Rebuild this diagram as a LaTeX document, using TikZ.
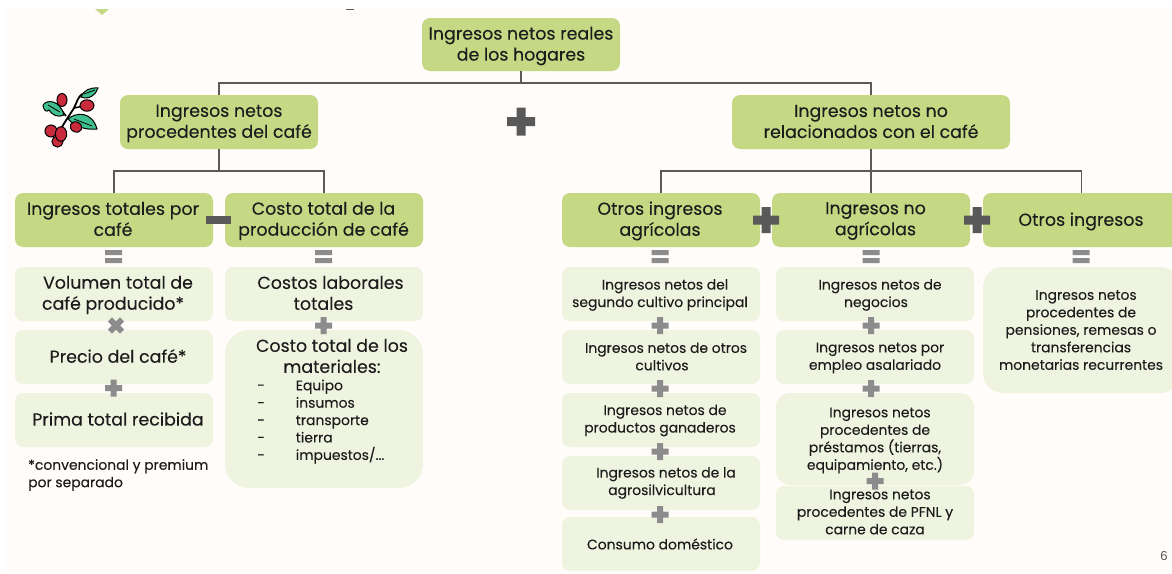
\documentclass[tikz,border=0pt]{standalone}
\usepackage{fontspec}
\setmainfont{Poppins}[UprightFeatures={FakeBold=0.12}]
\newfontfamily\numfont{Liberation Sans}
\definecolor{hdgreen}{HTML}{C5D985}
\definecolor{subgreen}{HTML}{EEF4E0}
\definecolor{paper}{HTML}{FFFCF9}
\definecolor{ink}{HTML}{1C1C1C}
\definecolor{opdark}{HTML}{595959}
\definecolor{oplight}{HTML}{8C8C8C}
\definecolor{conn}{HTML}{5A5A5A}
\definecolor{leaf}{HTML}{3FBF8F}
\definecolor{berry}{HTML}{C92A3C}
\newcommand{\lsp}[1]{\hspace*{#1pt}}
% name, x1, y1, x2, y2, style, corner radius
\newcommand{\bx}[7]{%
  \pgfmathsetmacro{\bw}{#4-#2}\pgfmathsetmacro{\bh}{#5-#3}%
  \pgfmathsetmacro{\bcx}{(#2+#4)/2}\pgfmathsetmacro{\bcy}{(#3+#5)/2}%
  \node[#6,rounded corners=#7pt,minimum width=\bw pt,minimum height=\bh pt] (#1) at (\bcx,\bcy) {};}
% centre x, centre y, half size, thickness, colour
\newcommand{\opplus}[5]{\fill[#5] (#1-#3,#2-#4) rectangle (#1+#3,#2+#4) (#1-#4,#2-#3) rectangle (#1+#4,#2+#3);}
\newcommand{\opeq}[2]{\fill[oplight] (#1-8.5,#2-6.5) rectangle (#1+8.5,#2-1.5) (#1-8.5,#2+1.5) rectangle (#1+8.5,#2+6.5);}
\tikzset{
  hd/.style={fill=hdgreen,draw=none,inner sep=0pt},
  sub/.style={fill=subgreen,draw=none,inner sep=0pt},
  big/.style={align=center,inner sep=0pt,text=ink,font=\fontsize{17.4}{21}\selectfont},
  mid/.style={align=center,inner sep=0pt,text=ink,font=\fontsize{13.9}{17.5}\selectfont},
  small/.style={align=left,inner sep=0pt,text=ink,font=\fontsize{13.9}{17.4}\selectfont},
  link/.style={draw=conn,line width=1.3pt},
  bl/.style={draw=black,line width=1pt,fill=berry},
  lf/.style={draw=black,line width=1pt,fill=leaf}
}
\begin{document}
\begin{tikzpicture}[x=1pt,y=-1pt]
\useasboundingbox (0,0) rectangle (1172,573);
\clip (0,0) rectangle (1172,573);
\fill[white] (0,0) rectangle (1172,573);
\fill[paper] (6,9) rectangle (1172,573);
\fill[hdgreen] (95,9) -- (109,9) -- (102,15) -- cycle;
\fill[opdark] (346,9) rectangle (354,10);
% header boxes
\bx{top}{422}{18}{620}{71}{hd}{8}
\bx{coffee}{120}{95}{318}{149}{hd}{8}
\bx{nocof}{732}{95}{1010}{149}{hd}{8}
\bx{tot}{15}{193}{213}{247}{hd}{8}
\bx{cost}{225}{193}{423}{247}{hd}{8}
\bx{agr}{562}{193}{760}{247}{hd}{8}
\bx{noagr}{772}{193}{970}{247}{hd}{8}
\bx{otros}{983}{193}{1180}{247}{hd}{8}
% connectors
\coordinate (j1) at (521,83);
\coordinate (j2) at (219,171);
\coordinate (j3) at (871,171);
\draw[link] (top.south) -- (j1);
\draw[link] (coffee.north) |- (j1) -| (nocof.north);
\draw[link] (coffee.south) -- (j2);
\draw[link] (tot.north) |- (j2) -| (cost.north);
\draw[link] (nocof.south) -- (j3);
\draw[link] (agr.north) |- (j3) -| (otros.north);
\draw[link] (j3) -- (noagr.north);
% sub boxes
\bx{vol}{15}{267}{213}{321}{sub}{8}
\bx{pre}{15}{330}{213}{384}{sub}{8}
\bx{pri}{15}{393}{213}{447}{sub}{8}
\bx{lab}{225}{267}{423}{321}{sub}{8}
\bx{mat}{225}{330}{423}{488}{sub}{24}
\bx{a1}{562}{267}{760}{321}{sub}{8}
\bx{a2}{562}{330}{760}{384}{sub}{8}
\bx{a3}{562}{393}{760}{447}{sub}{8}
\bx{a4}{562}{456}{760}{510}{sub}{8}
\bx{a5}{562}{517}{760}{571}{sub}{8}
\bx{b1}{776}{267}{974}{321}{sub}{8}
\bx{b2}{776}{330}{974}{384}{sub}{8}
\bx{b3}{776}{393}{974}{485}{sub}{14}
\bx{b4}{776}{486}{974}{540}{sub}{8}
\bx{c1}{983}{267}{1180}{393}{sub}{20}
% header text
\node[big] (ttop) at (521,46) {Ingresos netos reales\\de los hogares};
\node[big] (tcoffee) at (219,123.5) {Ingresos netos\\procedentes del café};
\node[big] (tnocof) at (871,121.5) {Ingresos netos no\\relacionados con el café};
\node[big] (ttot) at (113,219) {Ingresos totales por\\café};
\node[big] (tcost) at (323.5,221) {Costo total de la\\producción de café};
\node[big] (tagr) at (660,221) {Otros ingresos\\agrícolas};
\node[big] (tnoagr) at (875.5,221) {Ingresos no\\agrícolas};
\node[big] (totros) at (1081,221.5) {Otros ingresos};
% left sub text
\node[big] (tvol) at (113,295) {\lsp{10}Volumen total de\\café producido*};
\node[big] (tpre) at (118,356) {Precio del café*};
\node[big] (tpri) at (118,419) {Prima total recibida};
\node[big] (tlab) at (323.5,293) {\lsp{14}Costos laborales\\totales};
\node[big] (tmat) at (332,356) {Costo total de los\\materiales:};
\node[small,anchor=north west] (tlist) at (257,379.5) {-\hspace{31pt}Equipo\\-\hspace{31pt}insumos\\-\hspace{31pt}transporte\\-\hspace{31pt}tierra\\-\hspace{31pt}impuestos/...};
\node[small,anchor=north west] (tnote) at (28,459) {*convencional y premium\\por separado};
% right sub text
\node[mid] (ta1) at (660,295) {\lsp{10}Ingresos netos del\\segundo cultivo principal};
\node[mid] (ta2) at (666,356.5) {\lsp{0}Ingresos netos de otros\\\lsp{-8}cultivos};
\node[mid] (ta3) at (660,420.5) {\lsp{10}Ingresos netos de\\productos ganaderos};
\node[mid] (ta4) at (666,483) {Ingresos netos de la\\\lsp{-8}agrosilvicultura};
\node[mid] (ta5) at (660,544) {Consumo doméstico};
\node[mid] (tb1) at (880,295) {Ingresos netos de\\\lsp{-8}negocios};
\node[mid] (tb2) at (875,358) {\lsp{10}Ingresos netos por\\empleo asalariado};
\node[mid] (tb3) at (875,440.5) {\lsp{10}Ingresos netos\\procedentes de\\préstamos (tierras,\\equipamiento, etc.)};
\node[mid] (tb4) at (875,512) {\lsp{10}Ingresos netos\\procedentes de PFNL y\\carne de caza};
\node[mid] (tc1) at (1081,330) {\lsp{10}Ingresos netos\\procedentes de\\pensiones, remesas o\\transferencias\\monetarias recurrentes};
\node[font=\numfont\fontsize{13}{15}\selectfont,text=opdark,inner sep=0pt] (pnum) at (1164,556) {6};
% big operators
\opplus{521}{121.5}{14}{4.5}{opdark}
\fill[opdark] (206,216) rectangle (231,224);
\opplus{766}{220}{13}{4.5}{opdark}
\opplus{977}{220}{13}{4.5}{opdark}
% equals
\opeq{113.5}{256.5}
\opeq{323.5}{256.5}
\opeq{660}{256.5}
\opeq{871}{256.5}
\opeq{1081}{256.5}
% small operators
\opplus{113.5}{388}{8.5}{3}{oplight}
\opplus{323.5}{325.5}{8.5}{3}{oplight}
\foreach \yy in {325.5,388.5,451.5,514.5} {\opplus{660}{\yy}{8.5}{3}{oplight}}
\foreach \yy in {325.5,388.5} {\opplus{871}{\yy}{8.5}{3}{oplight}}
\opplus{875}{481}{8.5}{3}{oplight}
\begin{scope}[shift={(116,325.5)},rotate=45]
\opplus{0}{0}{8.5}{3}{oplight}
\end{scope}
% coffee branch
\draw[black,line width=1.8pt,line cap=round] (55,145) .. controls (58,130) and (68,118) .. (74,108) .. controls (77,102) and (78,97) .. (82,94);
\draw[black,line width=1.5pt] (74,108) -- (84,106) (66,116) -- (60,108) (68,118) -- (76,125);
\path[lf] (81,97) .. controls (84,90) and (90,87.5) .. (98,88) .. controls (96,95) and (89,100) .. (81,97) -- cycle;
\path[bl] (62,100) ellipse (5 and 6.5);
\path[bl] (87,105.5) ellipse (7 and 5.7);
\path[lf] (43,105) .. controls (47,99) and (60,100) .. (64,115) .. controls (58,118) and (52,115) .. (49,110) .. controls (47,112) and (44,112) .. (43,105) -- cycle;
\path[lf] (68,119) .. controls (76,112) and (92,111) .. (97,129) .. controls (88,130) and (76,128) .. (68,119) -- cycle;
\draw[black,line width=0.8pt] (48,105) -- (60,112) (74,119) -- (92,126) (84,94) -- (95,90);
\path[bl,rotate around={-25:(76,127)}] (76,127) ellipse (6 and 5);
\path[bl] (57.5,141.5) circle (5.6);
\path[bl] (51,131) circle (6);
\path[bl] (61,134) ellipse (5.7 and 7.3);
\end{tikzpicture}
\end{document}
